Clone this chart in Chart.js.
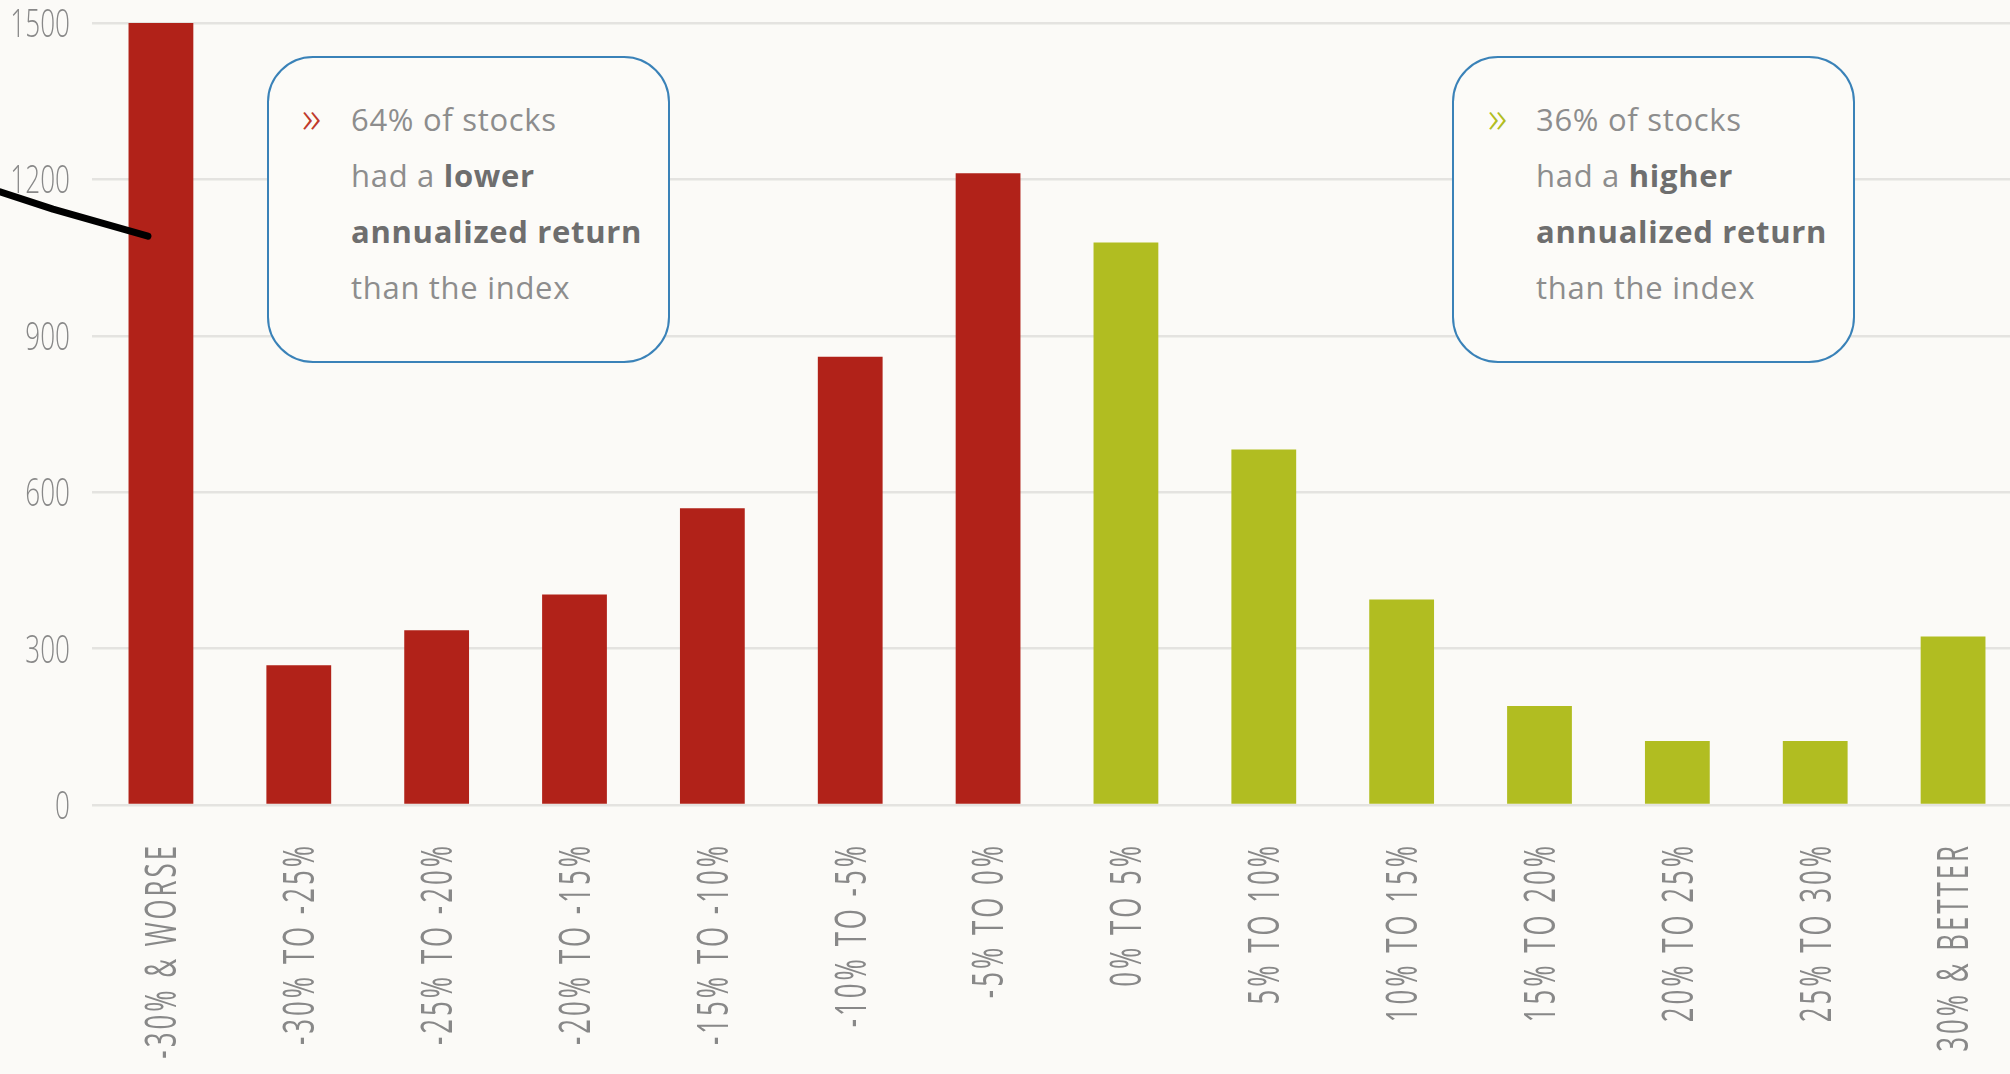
<!DOCTYPE html>
<html>
<head>
<meta charset="utf-8">
<script src="https://cdn.jsdelivr.net/npm/chart.js@4.4.0/dist/chart.umd.min.js"></script>
<style>
  html, body { margin: 0; padding: 0; background: #fbfaf7; overflow: hidden; }
  #wrap { position: relative; width: 2010px; height: 1074px; overflow: hidden; }
  #returns { position: absolute; left: 0; top: 0; }
  .note {
    position: absolute; top: 56px; width: 403px; height: 307px; box-sizing: border-box;
    border: 2.5px solid #3a82b8; border-radius: 46px; background: #fcfbf8;
  }
  .txt {
    position: absolute; top: 91px; font-family: 'Open Sans', sans-serif; font-size: 31px;
    line-height: 56px; color: #8d8d8d; letter-spacing: 0.7px; white-space: nowrap;
  }
  .txt b { color: #6e6e6e; font-weight: 700; }
  .arrow {
    position: absolute; top: 88px; font-family: 'Open Sans', sans-serif; font-size: 44px;
    font-weight: 300; line-height: 56px;
  }
</style>
</head>
<body>
<div id="wrap">
  <canvas id="returns" width="2022" height="1074"></canvas>

  <div class="note" style="left:267px"></div>
  <div class="arrow" style="left:302px;color:#c0392b">»</div>
  <div class="txt" style="left:351px">64% of stocks<br>had a <b>lower</b><br><b>annualized return</b><br>than the index</div>

  <div class="note" style="left:1452px"></div>
  <div class="arrow" style="left:1488px;color:#b1bd21">»</div>
  <div class="txt" style="left:1536px">36% of stocks<br>had a <b>higher</b><br><b>annualized return</b><br>than the index</div>
</div>

<script>
// annualized return buckets vs. the index
const categories = [
  '-30% & WORSE', '-30% TO -25%', '-25% TO -20%', '-20% TO -15%', '-15% TO -10%',
  '-10% TO -5%', '-5% TO 0%', '0% TO 5%', '5% TO 10%', '10% TO 15%',
  '15% TO 20%', '20% TO 25%', '25% TO 30%', '30% & BETTER'
];
const stockCounts = [1500, 268, 335, 404, 569, 860, 1212, 1079, 682, 394, 190, 123, 123, 323];
const yTicks = [0, 300, 600, 900, 1200, 1500];
const lowerBuckets = 7; // first 7 buckets are below the index

const RED = '#b12219';
const GREEN = '#b1bd21';
const GREY = '#888888';
const LABEL_FONT = "'Open Sans', sans-serif";

// the original uses a condensed face, none is installed -> squeeze the tick text
const condensedTicks = {
  id: 'condensedTicks',
  afterDraw(chart) {
    const { ctx, scales: { x, y } } = chart;
    ctx.save();
    ctx.fillStyle = GREY;
    ctx.textAlign = 'right';
    ctx.textBaseline = 'alphabetic';

    // category labels, rotated, end of text next to the axis
    const xs = 43, sq = 0.6, gap = 5;
    ctx.font = `400 ${xs}px ${LABEL_FONT}`;
    ctx.letterSpacing = gap + 'px';
    x.ticks.forEach((t, i) => {
      ctx.save();
      ctx.translate(x.getPixelForTick(i), x.top + 38);
      ctx.rotate(-Math.PI / 2);
      ctx.scale(sq, 1);
      ctx.fillText(x.getLabelForValue(t.value), 0, xs * 0.357);
      ctx.restore();
    });

    // value labels
    const ys = 39;
    ctx.font = `300 ${ys}px ${LABEL_FONT}`;
    ctx.letterSpacing = '0px';
    y.ticks.forEach(t => {
      ctx.save();
      ctx.translate(x.left - 22, y.getPixelForValue(t.value) + ys * 0.357);
      ctx.scale(0.67, 1);
      ctx.fillText(String(t.value), 0, 0);
      ctx.restore();
    });
    ctx.restore();
  }
};

// hand-drawn pen stroke pointing at the first bar
const scribble = {
  id: 'scribble',
  afterDatasetsDraw(chart) {
    const { ctx, scales: { x, y } } = chart;
    const endX = x.getPixelForValue(0) - 13;
    ctx.save();
    ctx.strokeStyle = '#000';
    ctx.lineWidth = 7;
    ctx.lineCap = 'round';
    ctx.lineJoin = 'round';
    ctx.beginPath();
    ctx.moveTo(0, y.getPixelForValue(1176));
    ctx.lineTo(endX - 95, y.getPixelForValue(1143));
    ctx.lineTo(endX, y.getPixelForValue(1091));
    ctx.stroke();
    ctx.restore();
  }
};

new Chart(document.getElementById('returns'), {
  type: 'bar',
  data: {
    labels: categories,
    datasets: [{
      data: stockCounts,
      backgroundColor: categories.map((c, i) => i < lowerBuckets ? RED : GREEN),
      borderWidth: 0,
      barPercentage: 0.47,
      categoryPercentage: 1
    }]
  },
  options: {
    responsive: false,
    animation: false,
    devicePixelRatio: 1,
    layout: { padding: { top: 23, right: 0, bottom: 0, left: 0 } },
    plugins: { legend: { display: false }, tooltip: { enabled: false } },
    scales: {
      x: {
        grid: { display: false, drawTicks: false },
        border: { display: false },
        ticks: { display: false, autoSkip: false },
        afterFit(scale) { scale.height = 269; }
      },
      y: {
        min: 0, max: 1500,
        afterBuildTicks(scale) { scale.ticks = yTicks.map(v => ({ value: v })); },
        grid: { color: '#e4e3e0', lineWidth: 2.5, drawTicks: false },
        border: { display: false },
        ticks: { display: false },
        afterFit(scale) { scale.width = 92; }
      }
    }
  },
  plugins: [scribble, condensedTicks]
});
</script>
</body>
</html>
